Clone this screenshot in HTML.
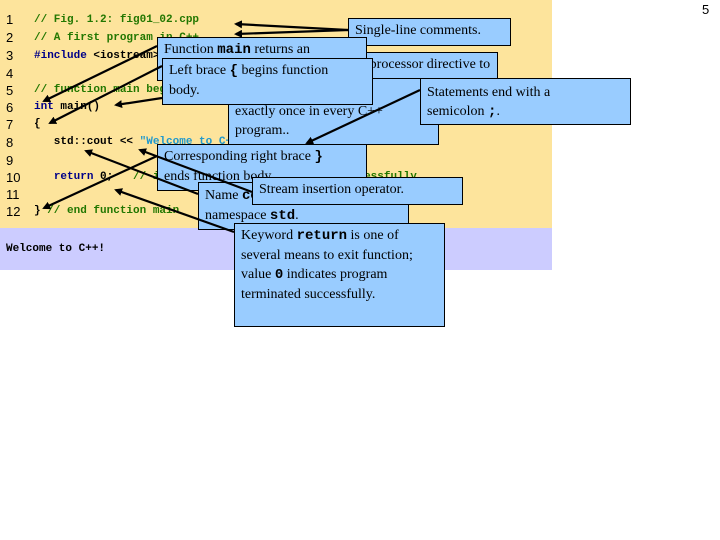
<!DOCTYPE html>
<html><head><meta charset="utf-8"><style>
body{margin:0;width:720px;height:540px;background:#fff;position:relative;overflow:hidden;font-family:"Liberation Serif",serif}
.y{position:absolute;left:0;top:0;width:552px;height:228px;background:#fde49c}
.l{position:absolute;left:0;top:228px;width:552px;height:42px;background:#ccccff}
.c{position:absolute;font:bold 11px "Liberation Mono",monospace;white-space:pre;color:#000}
.n{position:absolute;left:6px;font:13px "Liberation Sans",sans-serif;color:#000}
.g{color:#227700}.b{color:#000088}.s{color:#2299cc}
.bx{position:absolute;background:#99ccff;border:1px solid #000;font-size:14px;line-height:19px;padding:2px 6px;box-sizing:border-box;color:#000}
.bx b{font-family:"Liberation Mono",monospace}
</style></head><body>
<div class="y"></div><div class="l"></div>
<div class="n" style="top:12px">1</div><div class="n" style="top:30px">2</div><div class="n" style="top:48px">3</div><div class="n" style="top:66px">4</div><div class="n" style="top:83px">5</div><div class="n" style="top:100px">6</div><div class="n" style="top:117px">7</div><div class="n" style="top:135px">8</div><div class="n" style="top:153px">9</div><div class="n" style="top:170px">10</div><div class="n" style="top:187px">11</div><div class="n" style="top:204px">12</div>
<div class="c g" style="left:34px;top:14px">// Fig. 1.2: fig01_02.cpp</div>
<div class="c g" style="left:34px;top:32px">// A first program in C++</div>
<div class="c" style="left:34px;top:50px"><span class="b">#include</span> &lt;iostream&gt;</div>
<div class="c g" style="left:34px;top:84px">// function main begins program execution</div>
<div class="c" style="left:34px;top:101px"><span class="b">int</span> main()</div>
<div class="c" style="left:34px;top:118px">{</div>
<div class="c" style="left:34px;top:136px">   std::cout &lt;&lt; <span class="s">"Welcome to C++!\n"</span>;</div>
<div class="c" style="left:34px;top:171px">   <span class="b">return</span> 0;   <span class="g">// indicate that program ended successfully</span></div>
<div class="c" style="left:34px;top:205px">} <span class="g">// end function main</span></div>
<div class="c" style="left:6px;top:243px">Welcome to C++!</div>
<div style="position:absolute;left:702px;top:2px;font:13px 'Liberation Sans',sans-serif">5</div>

<div class="bx" style="left:348px;top:18px;width:163px;height:28px">Single-line comments.</div>
<div class="bx" style="left:340px;top:52px;width:158px;height:27px;padding-left:10px">Preprocessor directive to</div>
<div class="bx" style="left:157px;top:37px;width:210px;height:44px">Function <b>main</b> returns an</div>
<div class="bx" style="left:228px;top:78px;width:211px;height:67px;padding-top:4px"><span style="padding-left:80px">appears</span><br>exactly once in every C++<br>program..</div>
<div class="bx" style="left:162px;top:58px;width:211px;height:47px">Left brace <b>{</b> begins function<br>body.</div>
<div class="bx" style="left:420px;top:78px;width:211px;height:47px;padding-top:4px">Statements end with a<br>semicolon <b>;</b>.</div>
<div class="bx" style="left:157px;top:144px;width:210px;height:47px">Corresponding right brace <b>}</b><br>ends function body.</div>
<div class="bx" style="left:198px;top:182px;width:211px;height:48px;padding-top:3px">Name <b>cout</b> belongs to<br>namespace <b>std</b>.</div>
<div class="bx" style="left:252px;top:177px;width:211px;height:28px">Stream insertion operator.</div>
<div class="bx" style="left:234px;top:223px;width:211px;height:104px">Keyword <b>return</b> is one of<br>several means to exit function;<br>value <b>0</b> indicates program<br>terminated successfully.</div>

<svg width="720" height="540" style="position:absolute;left:0;top:0">
<defs><marker id="a" markerWidth="8" markerHeight="8" refX="6" refY="4" orient="auto" markerUnits="userSpaceOnUse"><path d="M0,0 L8,4 L0,8 z" fill="#000"/></marker></defs>
<g stroke="#000" stroke-width="2.2" fill="none" marker-end="url(#a)">
<line x1="348" y1="30" x2="236" y2="24"/>
<line x1="348" y1="30" x2="236" y2="34"/>
<line x1="157" y1="46" x2="44" y2="101"/>
<line x1="162" y1="66" x2="50" y2="123"/>
<line x1="162" y1="98" x2="116" y2="105"/>
<line x1="420" y1="90" x2="307" y2="143"/>
<line x1="157" y1="156" x2="44" y2="208"/>
<line x1="252" y1="192" x2="140" y2="150"/>
<line x1="198" y1="194" x2="86" y2="151"/>
<line x1="234" y1="232" x2="116" y2="190"/>
</g></svg>
</body></html>
